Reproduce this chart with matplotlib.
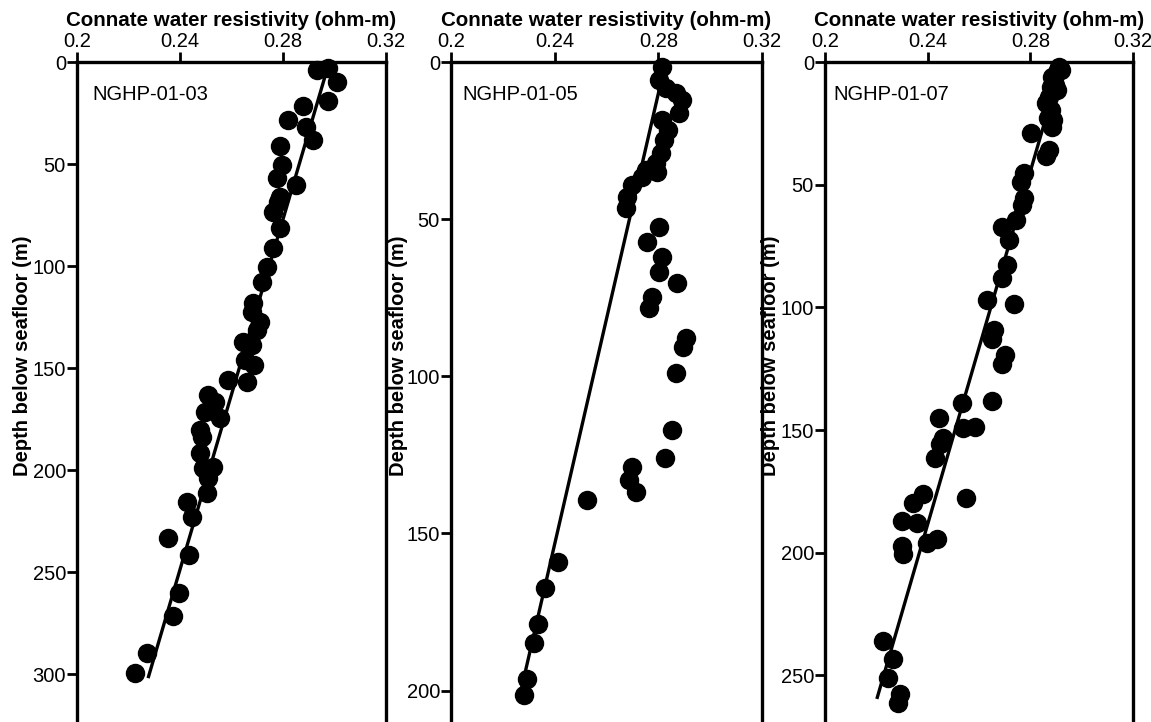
import matplotlib
matplotlib.use("Agg")
import matplotlib.pyplot as plt

# NGHP-01-03
site3_rw = [0.2975, 0.2932, 0.3010, 0.2975, 0.2878, 0.2820, 0.2889, 0.2917, 0.2788, 0.2796,
            0.2777, 0.2850, 0.2788, 0.2780, 0.2761, 0.2788, 0.2761, 0.2738, 0.2718, 0.2683,
            0.2680, 0.2711, 0.2699, 0.2645, 0.2680, 0.2652, 0.2687, 0.2660, 0.2586, 0.2509,
            0.2536, 0.2497, 0.2555, 0.2478, 0.2485, 0.2478, 0.2528, 0.2489, 0.2509, 0.2505,
            0.2427, 0.2447, 0.2353, 0.2435, 0.2396, 0.2373, 0.2272, 0.2225]
site3_depth = [2.9, 3.9, 9.8, 19.1, 21.6, 28.4, 31.9, 38.2, 41.2, 50.5,
               56.9, 60.3, 66.2, 68.6, 73.5, 81.4, 91.2, 100.5, 107.8, 118.1,
               122.5, 127.5, 131.4, 137.3, 138.7, 146.1, 148.5, 156.9, 155.9, 163.2,
               166.7, 171.6, 174.5, 180.4, 183.8, 191.7, 198.5, 199.0, 203.9, 211.3,
               215.7, 223.0, 233.3, 241.7, 260.3, 271.6, 289.7, 299.5]
site3_fit_rw = [0.2975, 0.2276]
site3_fit_depth = [2, 302]

# NGHP-01-05
site5_rw = [0.2815, 0.2804, 0.2869, 0.2881, 0.2815, 0.2823, 0.2812, 0.2792, 0.2796, 0.2754,
            0.2738, 0.2700, 0.2681, 0.2677, 0.2804, 0.2758, 0.2815, 0.2804, 0.2873, 0.2777,
            0.2765, 0.2908, 0.2896, 0.2869, 0.2854, 0.2827, 0.2700, 0.2688, 0.2715, 0.2523,
            0.2412, 0.2362, 0.2335, 0.2319, 0.2292, 0.2281, 0.2892, 0.2838, 0.2831]
site5_depth = [1.6, 5.7, 9.9, 16.2, 18.5, 24.8, 29.0, 32.2, 35.0, 34.4,
               36.6, 39.2, 43.0, 46.5, 52.5, 57.3, 62.1, 66.9, 70.4, 74.8,
               78.3, 87.9, 90.8, 99.0, 117.2, 126.1, 129.0, 133.1, 136.9, 139.5,
               159.2, 167.5, 178.7, 185.0, 196.2, 201.3, 12.1, 21.7, 8.3]
site5_fit_rw = [0.2828, 0.2270]
site5_fit_depth = [0, 200]

# NGHP-01-07
site7_rw = [0.2913, 0.2905, 0.2885, 0.2893, 0.2882, 0.2905, 0.2874, 0.2862, 0.2882, 0.2885,
            0.2804, 0.2874, 0.2862, 0.2777, 0.2765, 0.2777, 0.2769, 0.2746, 0.2691, 0.2718,
            0.2711, 0.2691, 0.2633, 0.2738, 0.2660, 0.2652, 0.2703, 0.2691, 0.2652, 0.2532,
            0.2443, 0.2586, 0.2536, 0.2458, 0.2447, 0.2427, 0.2551, 0.2381, 0.2342, 0.2299,
            0.2357, 0.2435, 0.2396, 0.2299, 0.2303, 0.2225, 0.2264, 0.2245, 0.2291, 0.2283,
            0.2920, 0.2897, 0.2870, 0.2889]
site7_depth = [2.0, 4.1, 6.1, 8.2, 10.2, 11.4, 14.3, 16.7, 19.6, 26.5,
               29.0, 35.9, 38.4, 45.3, 49.0, 55.5, 58.4, 64.5, 67.3, 72.7,
               82.9, 88.2, 97.1, 98.8, 109.4, 112.7, 119.6, 122.9, 138.0, 138.8,
               144.9, 148.6, 149.0, 153.1, 155.5, 161.6, 177.6, 175.9, 179.6, 186.9,
               187.8, 194.3, 195.9, 197.1, 200.4, 235.9, 243.3, 251.0, 257.6, 261.2,
               3.3, 9.4, 22.9, 23.7]
site7_fit_rw = [0.2924, 0.2202]
site7_fit_depth = [0, 259.6]

SITES = ['NGHP-01-03', 'NGHP-01-05', 'NGHP-01-07']
X_TICKS = [0.2, 0.24, 0.28, 0.32]
X_TICK_LABELS = ['0.2', '0.24', '0.28', '0.32']
Y_TICKS = [[0, 50, 100, 150, 200, 250, 300], [0, 50, 100, 150, 200], [0, 50, 100, 150, 200, 250]]
Y_MAX = [323.5, 210, 269]


def draw():
    plt.rcParams['font.family'] = ['Liberation Sans', 'DejaVu Sans']
    fig = plt.figure(figsize=(11.51, 7.22), dpi=100)

    lefts = [77, 451, 825]
    widths = [309, 311, 308]
    label_x = [-0.147, -0.137, -0.147]
    text_x = [0.0485, 0.035, 0.026]
    all_rw = [site3_rw, site5_rw, site7_rw]
    all_depth = [site3_depth, site5_depth, site7_depth]
    fit_rw = [site3_fit_rw, site5_fit_rw, site7_fit_rw]
    fit_depth = [site3_fit_depth, site5_fit_depth, site7_fit_depth]

    for i in range(3):
        ax = fig.add_axes([lefts[i] / 1151, 0, widths[i] / 1151, 1 - 62 / 722])
        ax.plot(fit_rw[i], fit_depth[i], color='black', linewidth=2.4, solid_capstyle='butt', zorder=2)
        ax.plot(all_rw[i], all_depth[i], 'o', color='black', markersize=13, zorder=3, clip_on=False)
        ax.set_xlim(0.2, 0.32)
        ax.set_ylim(Y_MAX[i], 0)
        ax.xaxis.tick_top()
        ax.xaxis.set_label_position('top')
        ax.set_xticks(X_TICKS)
        ax.set_xticklabels(X_TICK_LABELS)
        ax.set_yticks(Y_TICKS[i])
        ax.tick_params(axis='both', direction='out', length=7, width=2, labelsize=14.5, pad=1)
        for s in ['top', 'left', 'right']:
            ax.spines[s].set_linewidth(2.4)
        ax.spines['bottom'].set_visible(False)
        ax.set_xlabel('Connate water resistivity (ohm-m)', fontsize=14.8, weight='bold', labelpad=4)
        ax.set_ylabel('Depth below seafloor (m)', fontsize=14.5, weight='bold')
        ax.yaxis.set_label_coords(label_x[i], 0.555)
        ax.text(text_x[i], 0.95, SITES[i], transform=ax.transAxes, fontsize=14.5, va='center', ha='left')

    plt.savefig("out.png", dpi=100)


if __name__ == "__main__":
    draw()
